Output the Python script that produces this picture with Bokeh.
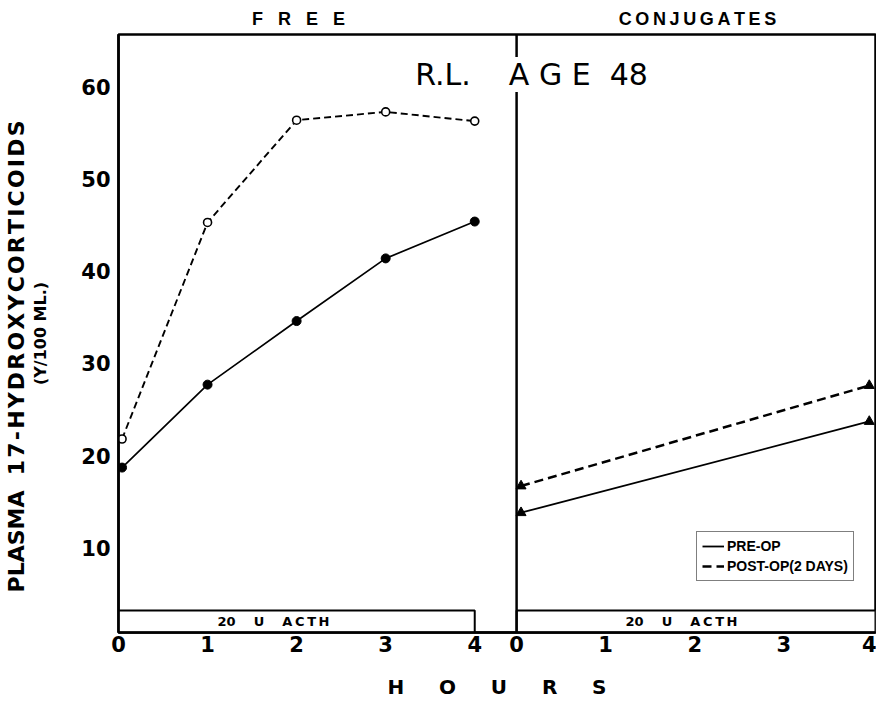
import math
from bokeh.plotting import figure
from bokeh.models import (Range1d, FixedTicker, CustomJSTickFormatter, Label, Span,
                          Legend, LegendItem, LinearAxis)
from bokeh.embed import file_html
from bokeh.resources import INLINE

NB = "\u00a0"   # non-breaking space (kept by SVG)
TH = "\u2009"   # thin space
HS = "\u200a"   # hair space

# ---------------- data ----------------
FREE_HOURS = [0.04, 1, 2, 3, 4]
FREE_PRE = [18.7, 27.7, 34.6, 41.4, 45.4]
FREE_POST = [21.8, 45.3, 56.4, 57.3, 56.3]
CONJ_HOURS = [0.05, 3.96]
CONJ_PRE = [13.8, 23.7]
CONJ_POST = [16.7, 27.6]
TICK_HOURS = [0, 1, 2, 3, 4]
Y_TICKS = [10, 20, 30, 40, 50, 60]
ACTH_HOURS = [0, 4]
ACTH_LEVEL = 3.2
SERIES_LABELS = ["PRE-OP", "POST-OP(2 DAYS)"]
PANEL_TITLES = [(NB * 3).join("FREE"), TH.join("CONJUGATES")]
TITLE = "R.L." + NB * 4 + "A" + NB + "G" + NB + "E" + NB * 2 + "48"
ACTH_TEXT = "20" + NB * 4 + "U" + NB * 4 + TH.join("ACTH")
X_LABEL = (NB * 5).join("HOURS")
Y_LABEL = "PLASMA" + NB * 2 + HS.join("17-HYDROXYCORTICOIDS") + NB * 6
Y_SUBLABEL = "(Y/100 ML.)"

# ---------------- layout ----------------
W, H = 876, 701
FRAME_L, FRAME_R, FRAME_T, FRAME_B = 118, 875, 34, 633   # page pixels
X_END = 8.5
CONJ_OFFSET = 4.47
Y_START, Y_END = 0.8, 65.7
PX_PER_X = (FRAME_R - FRAME_L) / X_END
PX_PER_Y = (FRAME_B - FRAME_T) / (Y_END - Y_START)


def dx(px):
    return (px - FRAME_L) / PX_PER_X


def dy(py):
    return Y_START + (FRAME_B - py) / PX_PER_Y


FONT = "DejaVu Sans"
NARROW = "Liberation Sans"

p = figure(width=W, height=H, x_range=Range1d(0, X_END), y_range=Range1d(Y_START, Y_END),
           output_backend="svg", toolbar_location=None,
           min_border_left=FRAME_L, min_border_right=W - FRAME_R,
           min_border_top=FRAME_T, min_border_bottom=H - FRAME_B)
p.xgrid.visible = False
p.ygrid.visible = False
p.outline_line_color = "black"
p.outline_line_width = 2.5
p.background_fill_color = "white"
p.border_fill_color = "white"


def style_axis(ax, size="21px", font=FONT):
    ax.axis_line_width = 2.5
    ax.axis_line_color = "black"
    ax.major_tick_line_color = None
    ax.minor_tick_line_color = None
    ax.major_tick_in = 0
    ax.major_tick_out = 0
    ax.minor_tick_in = 0
    ax.minor_tick_out = 0
    ax.major_label_text_font = font
    ax.major_label_text_font_style = "bold"
    ax.major_label_text_font_size = size
    ax.major_label_text_color = "black"
    ax.axis_label_text_color = "black"
    ax.axis_label_text_font_style = "bold"
    ax.axis_label_text_font = FONT


xa = p.xaxis[0]
style_axis(xa)
xa.ticker = FixedTicker(ticks=TICK_HOURS + [t + CONJ_OFFSET for t in TICK_HOURS])
xa.formatter = CustomJSTickFormatter(
    args=dict(off=CONJ_OFFSET),
    code="const v = tick > off - 0.2 ? tick - off : tick; return Math.round(v).toString();")
xa.major_label_standoff = 3
xa.axis_label = X_LABEL
xa.axis_label_text_font_size = "20px"
xa.axis_label_standoff = 20

ya = p.yaxis[0]
style_axis(ya)
ya.ticker = FixedTicker(ticks=Y_TICKS)
ya.major_label_standoff = 8
ya.axis_label = Y_SUBLABEL
ya.axis_label_text_font_size = "16px"
ya.axis_label_standoff = 28

yb = LinearAxis(ticker=FixedTicker(ticks=[]), axis_label=Y_LABEL)
style_axis(yb)
yb.axis_line_color = None
yb.major_label_standoff = 0
yb.axis_label_standoff = 0
yb.axis_label_text_font_size = "22px"
p.add_layout(yb, "left")

ta = LinearAxis(ticker=FixedTicker(ticks=[dx(298), dx(697)]))
style_axis(ta, size="18px", font=NARROW)
ta.axis_line_color = None
ta.major_label_standoff = 6
ta.formatter = CustomJSTickFormatter(
    args=dict(split=CONJ_OFFSET, heads=PANEL_TITLES),
    code="return tick < split ? heads[0] : heads[1];")
p.add_layout(ta, "above")

# ACTH boxes
p.quad(left=[ACTH_HOURS[0], ACTH_HOURS[0] + CONJ_OFFSET],
       right=[ACTH_HOURS[1], X_END],
       bottom=[Y_START, Y_START], top=[ACTH_LEVEL, ACTH_LEVEL],
       fill_color="white", line_color="black", line_width=2)

# right panel axis
p.add_layout(Span(location=CONJ_OFFSET, dimension="height", line_color="black", line_width=2.5))

# free
p.line(FREE_HOURS, FREE_PRE, line_color="black", line_width=1.7)
p.scatter(FREE_HOURS, FREE_PRE, marker="circle", size=9, fill_color="black", line_color="black")
p.line(FREE_HOURS, FREE_POST, line_color="black", line_width=1.9, line_dash="7 4")
p.scatter(FREE_HOURS, FREE_POST, marker="circle", size=8, fill_color="white",
          line_color="black", line_width=1.6)

# conjugates
cx = [h + CONJ_OFFSET for h in CONJ_HOURS]
pre_line = p.line(cx, CONJ_PRE, line_color="black", line_width=1.8)
p.scatter(cx, CONJ_PRE, marker="triangle", size=10, fill_color="black", line_color="black")
post_line = p.line(cx, CONJ_POST, line_color="black", line_width=2.5, line_dash="9 5")
p.scatter(cx, CONJ_POST, marker="triangle", size=10, fill_color="black", line_color="black")

legend = Legend(items=[LegendItem(label=SERIES_LABELS[0], renderers=[pre_line]),
                       LegendItem(label=SERIES_LABELS[1], renderers=[post_line])],
                location=(696 - FRAME_L, FRAME_B - 582), margin=0, padding=5, spacing=2,
                glyph_width=22, glyph_height=18, label_height=18, label_standoff=3,
                label_text_font=NARROW, label_text_font_style="bold",
                label_text_font_size="14px", label_text_color="black",
                border_line_color="black", border_line_width=1.5,
                background_fill_color="white", background_fill_alpha=1)
p.add_layout(legend)


def lab(px, py, text, size, style="bold", font=FONT, bg=None):
    kw = dict(x=dx(px), y=dy(py), text=text, text_font=font, text_font_size=size,
              text_font_style=style, text_align="center", text_baseline="middle",
              text_color="black")
    if bg:
        kw["background_fill_color"] = bg
    p.add_layout(Label(**kw))


lab(531, 74, TITLE, "30px", style="normal", bg="white")
lab(273, 622, ACTH_TEXT, "13px")
lab(681, 622, ACTH_TEXT, "13px")

open("out.html", "w").write(file_html(p, INLINE))
